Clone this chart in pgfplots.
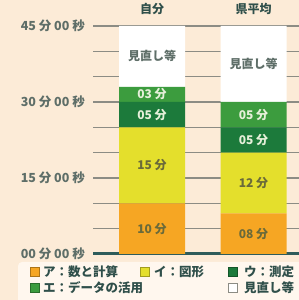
\documentclass[border=0pt]{standalone}
\usepackage{fontspec}
\setmainfont{Noto Sans CJK JP}
\usepackage{pgfplots}
\pgfplotsset{compat=1.18}
\definecolor{bg}{HTML}{FCEBD7}
\definecolor{legbg}{HTML}{FFF7EE}
\definecolor{cA}{HTML}{F6A623}
\definecolor{cB}{HTML}{E4DF2C}
\definecolor{cC}{HTML}{1C7A3B}
\definecolor{cD}{HTML}{3C9C3E}
\definecolor{gridc}{HTML}{8C8C84}
\definecolor{basec}{HTML}{2E5C5A}
\definecolor{tickc}{HTML}{5E6E68}
\definecolor{titc}{HTML}{2F4F4A}
\definecolor{txtdark}{HTML}{6A6A3A}
\definecolor{txtlight}{HTML}{E6F0DA}
\tikzset{bl/.style={font=\fontsize{12}{13}\selectfont\bfseries, inner sep=0pt}}
\begin{document}
\begin{tikzpicture}[x=1pt,y=1pt]
\useasboundingbox (0,0) rectangle (299,300);
\clip (0,0) rectangle (299,300);
\fill[bg] (0,0) rectangle (299,300);
\begin{axis}[
  at={(93pt,0pt)}, anchor=south west,
  scale only axis, width=206pt, height=300pt,
  xmin=93, xmax=299, ymin=-9.08, ymax=50.13,
  axis line style={draw=none},
  major tick length=0pt, minor tick length=0pt,
  xtick=\empty,
  ytick={0,15,30,45},
  yticklabels={00 分 00 秒,15 分 00 秒,30 分 00 秒,45 分 00 秒},
  minor ytick={5,10,20,25,35,40},
  ymajorgrids, yminorgrids,
  major grid style={gridc, line width=1.3pt},
  minor grid style={gridc, line width=1.3pt},
  yticklabel style={font=\fontsize{12.5}{13}\selectfont\bfseries, text=tickc, anchor=east, inner sep=0pt, xshift=-8pt},
  ybar stacked, bar width=66,
]
\addplot[fill=cA, draw=none] coordinates {(152,10) (253.5,8)};
\addplot[fill=cB, draw=none] coordinates {(152,15) (253.5,12)};
\addplot[fill=cC, draw=none] coordinates {(152,5) (253.5,5)};
\addplot[fill=cD, draw=none] coordinates {(152,3) (253.5,5)};
\addplot[fill=white, draw=none] coordinates {(152,12) (253.5,15)};
\draw[basec, line width=3pt] (axis cs:91,0) -- (axis cs:299,0);
\coordinate (a1) at (axis cs:152,5);
\coordinate (b1) at (axis cs:152,17.5);
\coordinate (c1) at (axis cs:152,27.5);
\coordinate (d1) at (axis cs:152,31.5);
\coordinate (e1) at (axis cs:152,39);
\coordinate (a2) at (axis cs:253.5,4);
\coordinate (b2) at (axis cs:253.5,14);
\coordinate (c2) at (axis cs:253.5,22.5);
\coordinate (d2) at (axis cs:253.5,27.5);
\coordinate (e2) at (axis cs:253.5,37.5);
\coordinate (t1) at (axis cs:152,48.4);
\coordinate (t2) at (axis cs:253.5,48.4);
\end{axis}
\node[bl, text=txtdark] at (a1) {10 分};
\node[bl, text=txtdark] at (b1) {15 分};
\node[bl, text=txtlight] at (c1) {05 分};
\node[bl, text=txtlight] at (d1) {03 分};
\node[bl, text=tickc] at (e1) {見直し等};
\node[bl, text=txtdark] at (a2) {08 分};
\node[bl, text=txtdark] at (b2) {12 分};
\node[bl, text=txtlight] at (c2) {05 分};
\node[bl, text=txtlight] at (d2) {05 分};
\node[bl, text=tickc] at (e2) {見直し等};
\node[bl, text=titc] at (t1) {自分};
\node[bl, text=titc] at (t2) {県平均};
\fill[legbg, rounded corners=4pt] (18,38) rectangle (320,-10);
\tikzset{lg/.style={font=\fontsize{12.5}{13}\selectfont\bfseries, text=titc, anchor=west, inner sep=0pt}}
\filldraw[fill=cA, draw=cA!70!black] (30,24) rectangle (39,33);
\node[lg] at (43,28.5) {ア：数と計算};
\filldraw[fill=cB, draw=cB!70!black] (140,24) rectangle (149,33);
\node[lg] at (154,28.5) {イ：図形};
\filldraw[fill=cC, draw=cC!70!black] (228,24) rectangle (237,33);
\node[lg] at (244,28.5) {ウ：測定};
\filldraw[fill=cD, draw=cD!70!black] (30,8) rectangle (39,17);
\node[lg] at (43,12.5) {エ：データの活用};
\filldraw[fill=white, draw=gridc] (228,8) rectangle (237,17);
\node[lg] at (244,12.5) {見直し等};
\end{tikzpicture}
\end{document}
